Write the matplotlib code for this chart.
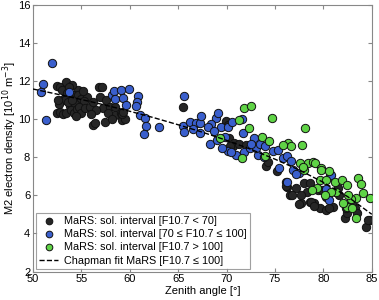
import numpy as np
import matplotlib
matplotlib.use("Agg")
import matplotlib.pyplot as plt

plt.rcParams['font.family'] = ['Liberation Sans', 'DejaVu Sans']

# MaRS, F10.7 < 70
low_x = [52.5, 52.8, 53.4, 53.0, 53.5, 53.9, 54.6, 54.2, 54.6, 55.0, 55.6, 55.3,
         52.5, 52.8, 53.1, 53.4, 53.0, 53.3, 52.7, 52.6, 53.8, 54.3, 53.9, 54.2,
         54.5, 54.8, 55.0, 55.4, 55.9, 56.2, 56.9, 56.8, 57.5, 57.2, 57.95, 58.5,
         58.5, 59.15, 59.5, 59.1, 56.2, 56.4, 57.4, 54.0, 55.2, 53.6, 54.0, 54.4,
         53.7, 56.5, 56.0, 57.8, 58.2, 59.2, 59.3, 57.1,
         65.5, 69.9, 70.1, 70.2, 70.8, 70.7, 71.3, 72.0, 70.4, 74.1, 74.3,
         76.1, 76.2, 76.1, 76.5, 77.2, 78.0, 78.6, 78.3, 77.7, 78.6, 79.0, 79.6,
         80.3, 81.0, 80.3, 79.4, 79.9, 81.3, 81.5, 81.6, 82.2, 82.4, 82.3, 83.3,
         83.5, 84.4, 84.8, 84.6, 83.0, 77.5, 78.7, 76.8, 77.7, 80.6, 79.0, 75.2]
low_y = [11.76, 11.7, 11.99, 11.55, 11.41, 11.2, 11.55, 11.3, 11.29, 11.1, 11.2, 10.95,
         10.33, 10.4, 10.3, 10.35, 11.03, 11.03, 10.8, 11.0, 10.7, 10.8, 10.5, 10.35,
         10.55, 10.65, 10.33, 10.6, 10.67, 10.94, 11.2, 11.7, 11.0, 10.6, 10.67, 10.67,
         10.24, 9.97, 10.0, 10.33, 9.71, 9.8, 9.88, 11.8, 11.5, 10.9, 11.0, 10.2,
         11.7, 10.5, 10.3, 10.35, 10.0, 10.27, 10.4, 11.7,
         10.67, 9.92, 9.7, 9.0, 8.75, 8.6, 8.7, 8.65, 8.6, 7.57, 7.75,
         6.73, 6.45, 6.5, 6.03, 6.38, 6.64, 6.64, 6.2, 5.59, 5.67, 5.6, 5.33,
         5.24, 5.41, 5.94, 6.29, 6.3, 6.2, 6.38, 6.0, 4.8, 5.1, 5.33, 5.33,
         5.1, 4.33, 4.71, 4.71, 5.6, 5.54, 5.67, 6.0, 6.03, 5.33, 5.45, 7.3]

# MaRS, 70 <= F10.7 <= 100
mid_x = [51.96, 51.03, 50.86, 51.3, 53.7, 58.2, 58.36, 58.5, 59.1, 59.9, 59.3, 59.6,
         60.9, 60.7, 60.6, 61.1, 61.6, 61.7, 61.45, 63.0, 65.65, 65.5, 65.65, 66.2,
         66.8, 67.3, 66.5, 67.4, 68.9, 69.1, 68.4, 68.1, 69.4, 70.1, 70.6, 71.6,
         71.7, 72.8, 69.8, 68.7, 67.3, 68.3, 69.0, 70.1, 71.0, 71.85, 72.4, 73.2,
         73.0, 73.9, 74.8, 75.3, 75.4, 75.8, 76.2, 76.7, 76.9, 77.5, 77.2, 76.2,
         80.7, 80.8, 80.3, 80.4, 80.6, 72.5, 73.5, 74.0, 69.5, 70.5]
mid_y = [12.96, 11.87, 11.43, 9.97, 11.46, 11.29, 11.52, 11.1, 11.55, 11.6, 11.15, 10.76,
         11.25, 10.9, 10.71, 10.24, 10.1, 9.67, 9.25, 9.62, 11.24, 9.67, 9.33, 9.88,
         9.8, 9.8, 9.5, 10.2, 10.06, 10.33, 9.77, 9.62, 9.62, 9.62, 9.88, 10.03,
         9.27, 9.0, 9.1, 9.4, 9.3, 8.7, 8.9, 8.34, 8.13, 8.3, 8.5, 8.13,
         8.5, 8.04, 8.34, 8.4, 7.43, 7.96, 8.1, 7.82, 7.36, 7.17, 7.13, 6.7,
         7.04, 7.08, 6.34, 6.03, 5.76, 8.7, 8.7, 8.6, 8.5, 8.3]

# MaRS, F10.7 > 100
high_x = [71.85, 72.5, 74.7, 71.3, 72.3, 73.7, 74.4, 69.3, 78.1, 76.35, 76.7, 77.8,
          71.6, 74.0, 75.8, 77.55, 78.4, 78.9, 79.1, 79.8, 79.75, 78.0, 77.9, 79.6,
          80.3, 81.2, 81.9, 82.4, 83.6, 83.9, 84.1, 84.8, 83.4, 82.9, 82.4, 83.0,
          83.4, 82.0, 81.3, 80.8, 79.3, 80.2, 78.8, 82.5, 80.6]
high_y = [10.62, 10.73, 10.06, 9.97, 9.57, 9.1, 8.87, 9.04, 9.57, 8.78, 8.6, 8.66,
          7.96, 8.1, 8.66, 7.69, 7.69, 7.78, 7.69, 7.43, 7.34, 7.33, 7.5, 6.82,
          6.82, 6.73, 6.82, 6.55, 6.9, 6.6, 6.12, 5.85, 5.85, 5.8, 5.41, 5.33,
          4.8, 5.6, 6.2, 6.2, 6.38, 6.0, 6.3, 6.0, 7.3]

# Chapman fit
fit_x = [50, 52.5, 55, 57.5, 60, 62.5, 65, 67.5, 70, 72.5, 75, 77.5, 80, 82.5, 85]
fit_y = [11.6, 11.33, 11.05, 10.75, 10.43, 10.09, 9.72, 9.33, 8.9, 8.43, 7.91, 7.34, 6.69, 5.94, 5.01]

fig = plt.figure(figsize=(3.79, 3.0), dpi=100)
ax = fig.add_axes([0.087, 0.095, 0.894, 0.887])

ms = 36
ax.scatter(low_x, low_y, s=ms, c='#262626', edgecolors='#111111', linewidths=0.7, zorder=2,
           label='MaRS: sol. interval [F10.7 < 70]')
ax.scatter(mid_x, mid_y, s=ms, c='#3a5fcd', edgecolors='#111111', linewidths=0.7, zorder=3,
           label='MaRS: sol. interval [70 \u2264 F10.7 \u2264 100]')
ax.scatter(high_x, high_y, s=ms, c='#5fd346', edgecolors='#111111', linewidths=0.7, zorder=4,
           label='MaRS: sol. interval [F10.7 > 100]')
ax.plot(fit_x, fit_y, '--', color='black', lw=1.0, zorder=5,
        label='Chapman fit MaRS [F10.7 \u2264 100]')

ax.set_xlim(50, 85)
ax.set_ylim(2, 16)
ax.set_xticks(np.arange(50, 86, 5))
ax.set_yticks(np.arange(2, 17, 2))
ax.tick_params(direction='in', top=True, right=True, labelsize=8, length=3,
               color='#888888', pad=2)
for sp in ax.spines.values():
    sp.set_color('#888888')
    sp.set_linewidth(0.8)

ax.set_xlabel('Zenith angle [\u00b0]', fontsize=8, labelpad=1)
ax.set_ylabel('M2 electron density [10$^{10}$ m$^{-3}$]', fontsize=8)
ax.yaxis.set_label_coords(-0.042, 0.5)

leg = ax.legend(loc='lower left', fontsize=7.8, frameon=True, fancybox=False,
                edgecolor='#888888', handlelength=1.8, handletextpad=0.5,
                borderpad=0.3, labelspacing=0.3, borderaxespad=0.25,
                scatterpoints=1, markerscale=0.8)
leg.get_frame().set_linewidth(0.8)

fig.savefig('out.png', dpi=100)
